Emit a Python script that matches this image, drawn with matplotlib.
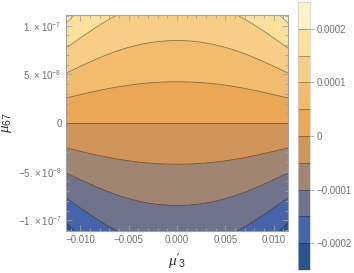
import numpy as np
import matplotlib
matplotlib.use("Agg")
import matplotlib.pyplot as plt
from matplotlib.ticker import MultipleLocator

plt.rcParams['font.family'] = ['Liberation Sans', 'DejaVu Sans']
plt.rcParams['mathtext.fontset'] = 'custom'
plt.rcParams['mathtext.rm'] = 'Liberation Sans'
plt.rcParams['mathtext.it'] = 'Liberation Serif:italic'

# ranges and field shape: f = mu67 * g(mu3')
x_range = [-0.0115, 0.0115]
y_range = [-1.11e-7, 1.11e-7]
g0, g2, g4 = 1180.0, 3.89e6, 1.459e10

levels = [-0.00025, -0.0002, -0.00015, -0.0001, -0.00005, 0.0,
          0.00005, 0.0001, 0.00015, 0.0002, 0.00025]
band_colors = ['#285590', '#4664aa', '#71738c', '#a08573', '#d1955a',
               '#eaa755', '#f2bb6e', '#f8ce87', '#fde09b', '#fdf3c8']

x_ticks = [-0.010, -0.005, 0.0, 0.005, 0.010]
x_labels = ['\u22120.010', '\u22120.005', '0.000', '0.005', '0.010']
y_ticks = [-1e-7, -5e-8, 0, 5e-8, 1e-7]
y_labels = [r'$\mathrm{-1.\times10^{-7}}$', r'$\mathrm{-5.\times10^{-8}}$', '0',
            r'$\mathrm{5.\times10^{-8}}$', r'$\mathrm{1.\times10^{-7}}$']
cb_ticks = [-0.0002, -0.0001, 0, 0.0001, 0.0002]
cb_labels = ['\u22120.0002', '\u22120.0001', '0', '0.0001', '0.0002']

gray = '#a0a0a0'
txt = '#707070'

x = np.linspace(x_range[0], x_range[1], 400)
y = np.linspace(y_range[0], y_range[1], 400)
X, Y = np.meshgrid(x, y)
F = Y * (g0 + g2 * X**2 + g4 * X**4)

fig = plt.figure(figsize=(3.54, 2.73), dpi=100)
ax = fig.add_axes([66/354, 1-231/273, 222/354, 216/273])
cax = fig.add_axes([298/354, 3/273, 12/354, 268/273])

cf = ax.contourf(X, Y, F, levels=levels, colors=band_colors)
ax.contour(X, Y, F, levels=levels[1:-1], colors='k', alpha=0.45,
           linewidths=0.6, linestyles='solid')

ax.set_xlim(x_range)
ax.set_ylim(y_range)
ax.set_xticks(x_ticks)
ax.set_xticklabels(x_labels)
ax.set_yticks(y_ticks)
ax.set_yticklabels(y_labels)
ax.xaxis.set_minor_locator(MultipleLocator(0.001))
ax.yaxis.set_minor_locator(MultipleLocator(1e-8))
ax.tick_params(which='both', direction='in', top=True, right=True,
               color=gray, labelcolor=txt, labelsize=7, width=0.6)
ax.tick_params(which='major', length=4, pad=3)
ax.tick_params(which='minor', length=2)
for s in ax.spines.values():
    s.set_color(gray)
    s.set_linewidth(0.8)

ax.set_xlabel(r"$\mu'_{3}$", fontsize=11, color='#333333')
ax.xaxis.set_label_coords(0.5, -0.095)
ax.set_ylabel(r"$\mu_{67}$", fontsize=11, color='#333333')
ax.yaxis.set_label_coords(-0.235, 0.5)

cb = fig.colorbar(cf, cax=cax, ticks=cb_ticks, drawedges=True)
cb.ax.set_yticklabels(cb_labels)
cb.ax.tick_params(color=gray, labelcolor=txt, labelsize=7, length=3,
                  width=0.6, pad=1.5)
cb.outline.set_edgecolor('#cccccc')
cb.outline.set_linewidth(0.5)
cb.dividers.set_color((0, 0, 0, 0.35))
cb.dividers.set_linewidth(0.6)

fig.savefig('out.png', dpi=100)
